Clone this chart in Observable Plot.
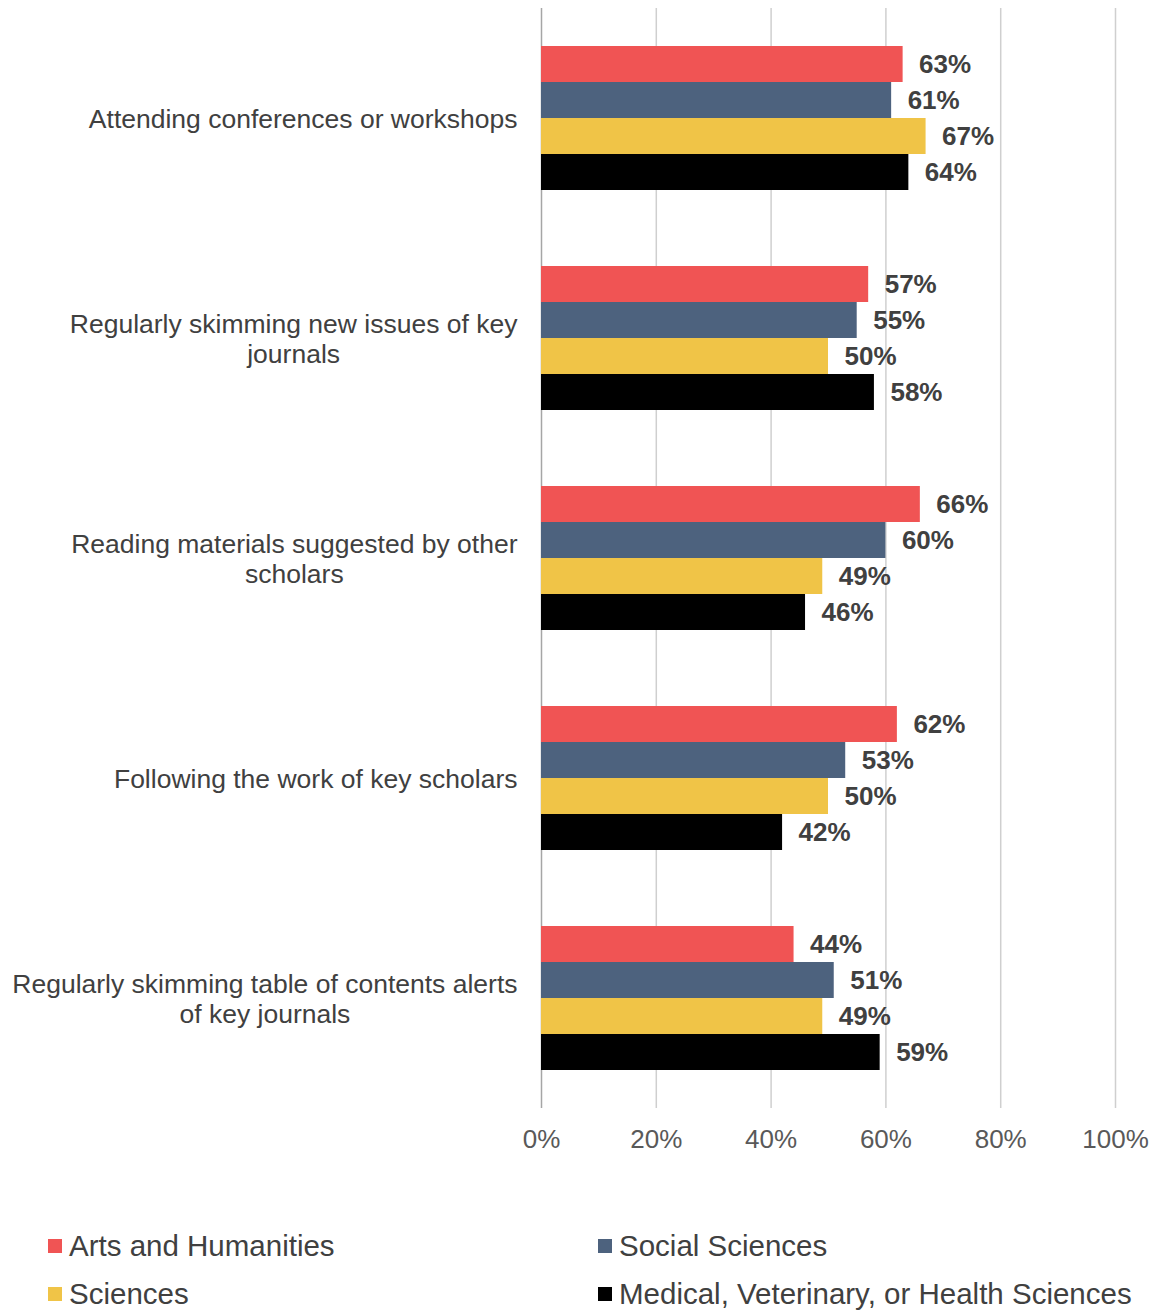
<!DOCTYPE html>
<html><head><meta charset="utf-8">
<script src="https://cdn.jsdelivr.net/npm/d3@7"></script>
<script src="https://cdn.jsdelivr.net/npm/@observablehq/plot@0.6"></script>
<style>
body{margin:0;background:#fff;font-family:"Liberation Sans",Arial,sans-serif;}
#chart svg{display:block;}
#legend{margin-top:52px;display:grid;grid-template-columns:550px 558px;padding-left:48px;row-gap:0;}
.item{display:flex;align-items:center;height:48px;font-size:29.5px;color:#404040;white-space:nowrap;}
.sw{width:14px;height:14px;margin-right:7px;flex:none;}
</style></head><body>
<div id="chart"></div>
<div id="legend"></div>
<script>
const categories = [
  "Attending conferences or workshops",
  "Regularly skimming new issues of key journals",
  "Reading materials suggested by other scholars",
  "Following the work of key scholars",
  "Regularly skimming table of contents alerts of key journals"
];
const categoryLines = [
  ["Attending conferences or workshops"],
  ["Regularly skimming new issues of key", "journals"],
  ["Reading materials suggested by other", "scholars"],
  ["Following the work of key scholars"],
  ["Regularly skimming table of contents alerts", "of key journals"]
];
const series = ["Arts and Humanities", "Social Sciences", "Sciences", "Medical, Veterinary, or Health Sciences"];
const colors = ["#F05454", "#4D627E", "#F0C447", "#000000"];
const arts = [63, 57, 66, 62, 44];
const social = [61, 55, 60, 53, 51];
const sciences = [67, 50, 49, 50, 49];
const medical = [64, 58, 46, 42, 59];
const xTicks = [0, 20, 40, 60, 80, 100];

const values = [arts, social, sciences, medical];
const data = [];
categories.forEach((c, i) => series.forEach((s, j) => data.push({category: c, series: s, value: values[j][i]})));

const FONT = "Liberation Sans";
const LABEL_SIZE = 26.5;
const ctx = document.createElement("canvas").getContext("2d");
ctx.font = `${LABEL_SIZE}px "${FONT}"`;

const labelMarks = categories.map((c, i) => {
  const lines = categoryLines[i];
  const w = Math.max(...lines.map(l => ctx.measureText(l).width));
  return Plot.text([c], {
    fy: d => d, frameAnchor: "left", textAnchor: "middle", lineAnchor: "middle",
    text: () => lines.join("\n"), dx: -(24 + w / 2), fontSize: LABEL_SIZE, lineHeight: 1.14, fill: "#404040"
  });
});

const chart = Plot.plot({
  width: 1156, height: 1170,
  marginLeft: 541, marginRight: 41, marginTop: 8, marginBottom: 62,
  style: {fontFamily: FONT, fontSize: "26px", background: "#fff"},
  x: {domain: [0, 100], ticks: xTicks, tickFormat: d => d + "%", axis: null, label: null},
  y: {domain: series, paddingInner: 0, paddingOuter: 1, axis: null},
  fy: {domain: categories, padding: 0, axis: null},
  color: {domain: series, range: colors},
  marks: [
    Plot.ruleX(xTicks.slice(1), {stroke: "#cfcfcf", strokeWidth: 1.5}),
    Plot.ruleX([0], {stroke: "#a6a6a6", strokeWidth: 1.5}),
    Plot.barX(data, {x: "value", y: "series", fy: "category", fill: "series"}),
    Plot.text(data, {x: "value", y: "series", fy: "category", text: d => d.value + "%", textAnchor: "start", dx: 16, fontWeight: "bold", fontSize: 26, fill: "#404040"}),
    ...labelMarks,
    Plot.axisX(xTicks, {tickSize: 0, tickPadding: 21, fontSize: 26, fill: "#595959", tickFormat: d => d + "%", label: null})
  ]
});
document.getElementById("chart").append(chart);

const legend = document.getElementById("legend");
series.forEach((s, j) => {
  const it = document.createElement("div");
  it.className = "item";
  it.innerHTML = `<span class="sw" style="background:${colors[j]}"></span><span>${s}</span>`;
  legend.append(it);
});
</script>
</body></html>
